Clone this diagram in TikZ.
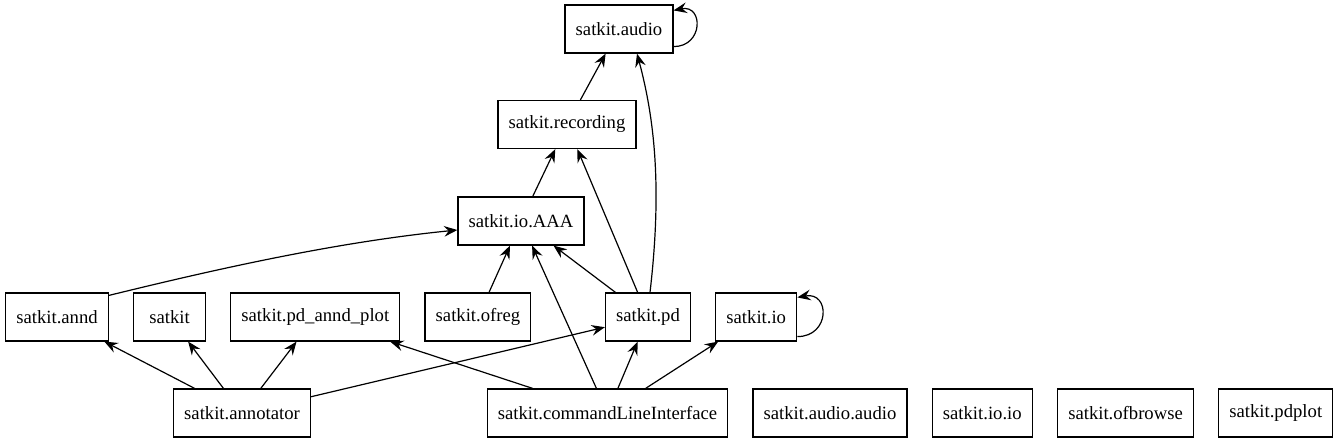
\documentclass[tikz,border=0pt]{standalone}
\usepackage{fontspec}
\setmainfont{Liberation Serif}
\usetikzlibrary{positioning,arrows.meta}

\begin{document}
\begin{tikzpicture}[
    x=0.75pt, y=-0.75pt,
    module/.style={
        rectangle,
        draw,
        line width=0.9pt,
        minimum width=54pt,
        minimum height=36pt,
        inner xsep=8pt,
        font=\fontsize{14}{16}\selectfont
    },
    dep/.style={
        line width=0.9pt,
        -{Stealth[length=10pt,width=8pt,inset=3.5pt]}
    }
]

\useasboundingbox (0,0) rectangle (1337,443);

% ------------------------------------------------------------
% Upper modules
% ------------------------------------------------------------

\node[module] (audio) at (619,29) {satkit.audio};

\node[module] (recording) at (567,124.5) {satkit.recording};

\node[module] (aaa) at (521,221) {satkit.io.AAA};

% ------------------------------------------------------------
% Middle row
% ------------------------------------------------------------

\node[module] (annd) at (57,317) {satkit.annd};

\node[module, right=18pt of annd] (satkit) {satkit};

\node[module, right=18pt of satkit] (plot) {satkit.pd\_annd\_plot};

\node[module, right=18pt of plot] (ofreg) {satkit.ofreg};

\node[module] (pd) at (648,317) {satkit.pd};

\node[module, right=18pt of pd] (io) {satkit.io};

% ------------------------------------------------------------
% Bottom row
% ------------------------------------------------------------

\node[module] (annotator) at (242,413) {satkit.annotator};

\node[module] (cli) at (607.5,413) {satkit.commandLineInterface};

\node[module, right=18pt of cli] (audioaudio) {satkit.audio.audio};

\node[module, right=18pt of audioaudio] (ioio) {satkit.io.io};

\node[module, right=18pt of ioio] (ofbrowse) {satkit.ofbrowse};

\node[module, right=18pt of ofbrowse] (pdplot) {satkit.pdplot};

% ------------------------------------------------------------
% Dependencies -> satkit.audio
% ------------------------------------------------------------

\draw[dep] (recording) -- (audio);

\draw[dep]
    ([xshift=1.5pt]pd.north)
    .. controls +(12,-103) and +(18,67) ..
    ([xshift=13.5pt]audio.south);

\draw[dep]
    ([yshift=5.25pt]audio.south east)
    .. controls +(30,0) and +(30,-6) ..
    ([yshift=-4.5pt]audio.north east);

% ------------------------------------------------------------
% Dependencies -> satkit.recording
% ------------------------------------------------------------

\draw[dep] (aaa) -- (recording);
\draw[dep] (pd) -- (recording);

% ------------------------------------------------------------
% Dependencies -> satkit.io.AAA
% ------------------------------------------------------------

\draw[dep]
    ([yshift=-2.25pt]annd.north east)
    .. controls +(110,-27) and +(-120,12) ..
    ([yshift=-6.75pt]aaa.west);

\draw[dep] (ofreg) -- (aaa);
\draw[dep] (pd) -- (aaa);
\draw[dep] (cli) -- (aaa);

% ------------------------------------------------------------
% satkit.annotator
% ------------------------------------------------------------

\draw[dep] (annotator) -- (annd);
\draw[dep] (annotator) -- (satkit);
\draw[dep] (annotator) -- (plot);
\draw[dep] (annotator) -- (pd);

% ------------------------------------------------------------
% satkit.commandLineInterface
% ------------------------------------------------------------

\draw[dep] (cli) -- (plot);
\draw[dep] (cli) -- (pd);
\draw[dep] (cli) -- (io);

% ------------------------------------------------------------
% satkit.io
% ------------------------------------------------------------

\draw[dep]
    ([yshift=3.75pt]io.south east)
    .. controls +(33,0) and +(33,-6) ..
    ([yshift=-3.75pt]io.north east);

\end{tikzpicture}
\end{document}
